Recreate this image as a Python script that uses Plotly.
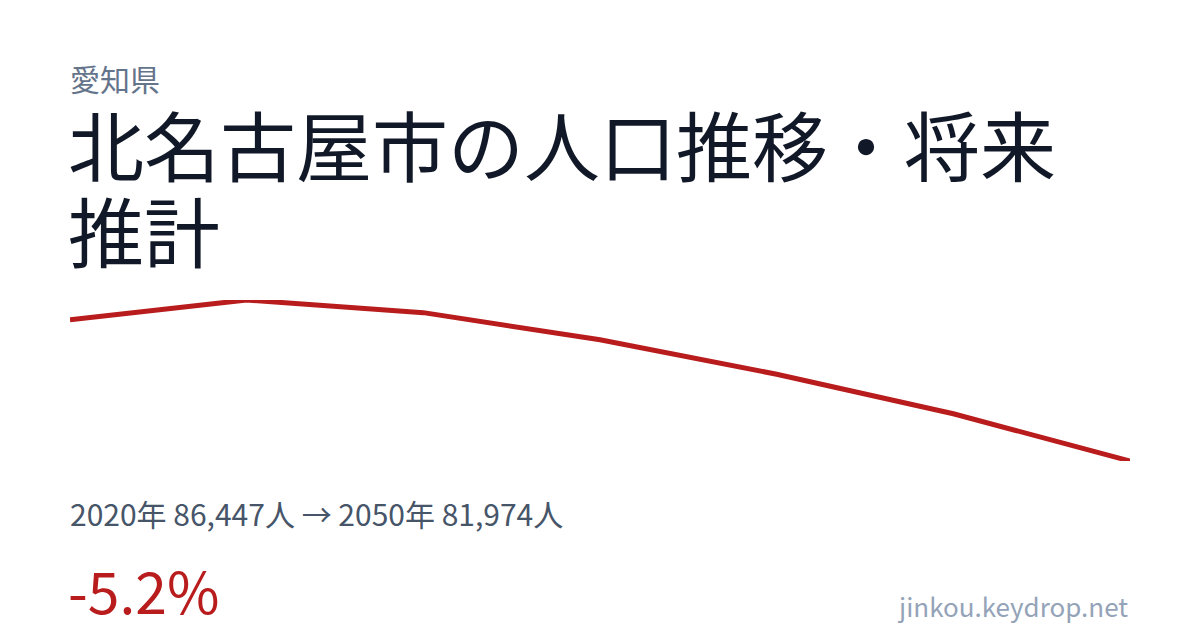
import plotly.graph_objects as go

# 北名古屋市 population (estimated from the chart)
years = [2020, 2025, 2030, 2035, 2040, 2045, 2050]
population = [86447, 87070, 86670, 85810, 84720, 83470, 81974]

prefecture = "愛知県"
title_line1 = "北名古屋市の人口推移・将来"
title_line2 = "推計"
site = "jinkou.keydrop.net"

FONT = "Noto Sans CJK JP"
W, H = 1200, 630
OFF = 8  # the page body margin shifts the figure by this much
PLOT_LEFT, PLOT_RIGHT, PLOT_TOP, PLOT_BOTTOM = 70 - OFF, 1130 - OFF, 300 - OFF, 461 - OFF

change = (population[-1] - population[0]) / population[0] * 100
summary = f"{years[0]}年 {population[0]:,}人 → {years[-1]}年 {population[-1]:,}人"
pct_text = f"{change:.1f}%"


def px_x(x):
    return (x - OFF - PLOT_LEFT) / (PLOT_RIGHT - PLOT_LEFT)


def px_y(y):
    return (PLOT_BOTTOM - (y - OFF)) / (PLOT_BOTTOM - PLOT_TOP)


def label(text, x, y, size, color, xanchor="left"):
    return dict(text=text, x=px_x(x), y=px_y(y), xref="paper", yref="paper",
                xanchor=xanchor, yanchor="middle", showarrow=False,
                font=dict(family=FONT, size=size, color=color))


fig = go.Figure()
fig.add_trace(go.Scatter(x=years, y=population, mode="lines",
                         line=dict(color="#b91c1c", width=5),
                         hoverinfo="skip"))

fig.update_layout(
    width=W, height=H,
    paper_bgcolor="white", plot_bgcolor="white",
    margin=dict(l=PLOT_LEFT, r=W - PLOT_RIGHT, t=PLOT_TOP, b=H - PLOT_BOTTOM, pad=0),
    showlegend=False,
    xaxis=dict(visible=False, range=[years[0], years[-1]]),
    yaxis=dict(visible=False, range=[min(population), max(population)]),
    annotations=[
        label(prefecture, 68, 78, 30, "#64748b"),
        label(title_line1, 66, 143, 76, "#111827"),
        label(title_line2, 66, 229, 76, "#111827"),
        label(summary, 68, 513, 30, "#475569"),
        label(pct_text, 66, 589, 57, "#b91c1c"),
        label(site, 1130, 605, 26, "#94a3b8", xanchor="right"),
    ],
)

fig.write_html("out.html")
